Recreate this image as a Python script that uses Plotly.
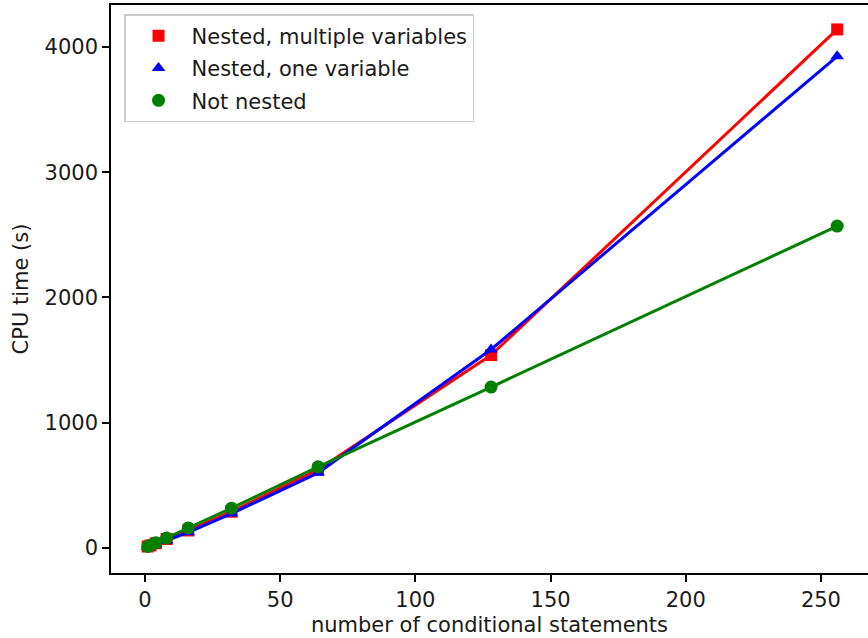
import plotly.graph_objects as go

n_statements = [1, 2, 4, 8, 16, 32, 64, 128, 256]
multi_vars = [12, 20, 38, 72, 140, 290, 625, 1540, 4140]
one_var = [8, 14, 30, 60, 125, 275, 600, 1585, 3925]
not_nested = [12, 22, 42, 80, 160, 318, 648, 1285, 2570]

series = [
    ("Nested, multiple variables", multi_vars, "#ff0000", "square", 12),
    ("Nested, one variable", one_var, "#0000ff", "triangle-up", 12),
    ("Not nested", not_nested, "#008000", "circle", 13),
]

fig = go.Figure()
for i, (name, vals, col, sym, sz) in enumerate(series):
    fig.add_trace(go.Scatter(x=n_statements, y=vals, mode="lines",
                             line=dict(color=col, width=3), showlegend=False,
                             hoverinfo="skip"))
    fig.add_trace(go.Scatter(x=n_statements, y=vals, mode="markers", name=name,
                             legendgroup=f"g{i}",
                             marker=dict(symbol=sym, size=sz, color=col,
                                         line=dict(width=0))))

FS = 21
tf = dict(family="DejaVu Sans", size=FS, color="#1a1a1a")
fig.update_layout(
    width=868, height=638,
    margin=dict(l=111, r=0, t=5, b=65),
    plot_bgcolor="white", paper_bgcolor="white",
    font=tf,
    showlegend=True,
    legend=dict(x=0.0172, y=0.9840, xanchor="left", yanchor="top",
                bgcolor="rgba(255,255,255,0.8)", bordercolor="#cccccc",
                borderwidth=1.5, tracegroupgap=2, traceorder="grouped",
                font=tf, itemwidth=56),
    xaxis=dict(range=[-12.57, 267.4], tickvals=[0, 50, 100, 150, 200, 250],
               showgrid=False, zeroline=False, showline=True, linecolor="black",
               linewidth=1.5, mirror=True, ticks="outside", ticklen=7, tickwidth=1.5,
               tickcolor="black", tickfont=tf,
               title=dict(text="number of conditional statements", font=tf,
                          standoff=6)),
    yaxis=dict(range=[-199.6, 4335], tickvals=[0, 1000, 2000, 3000, 4000],
               showgrid=False, zeroline=False, showline=True, linecolor="black",
               linewidth=1.5, mirror=False, ticks="outside", ticklen=7, tickwidth=1.5,
               tickcolor="black", tickfont=tf,
               title=dict(text="CPU time (s)", font=tf, standoff=10)),
)

fig.write_html("out.html", config={"displayModeBar": False},
               post_script="document.body.style.margin='0px';")
